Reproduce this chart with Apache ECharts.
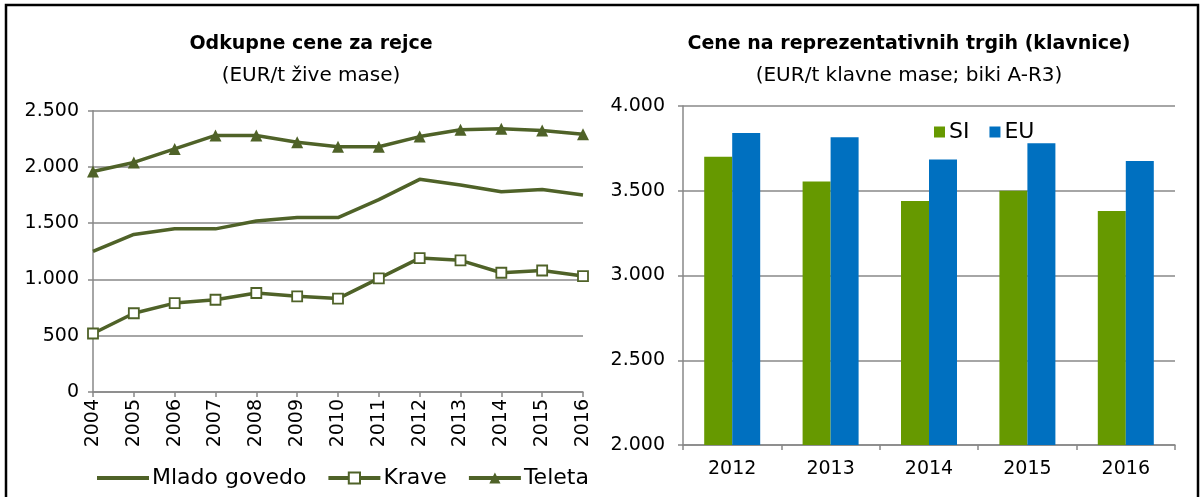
<!DOCTYPE html>
<html>
<head>
<meta charset="utf-8">
<script src="https://cdn.jsdelivr.net/npm/echarts@6/dist/echarts.min.js"></script>
<style>
html,body{margin:0;padding:0;background:#fff;}
#c{width:1200px;height:497px;}
</style>
</head>
<body>
<div id="c"></div>
<script>
const years = ['2004','2005','2006','2007','2008','2009','2010','2011','2012','2013','2014','2015','2016'];
const mladoGovedo = [1250,1400,1450,1450,1520,1550,1550,1710,1890,1840,1780,1800,1750];
const krave = [520,700,790,820,880,850,830,1010,1190,1170,1060,1080,1030];
const teleta = [1960,2040,2160,2280,2280,2220,2180,2180,2270,2330,2340,2325,2290];

const barYears = ['2012','2013','2014','2015','2016'];
const si = [3700,3555,3440,3500,3380];
const eu = [3840,3815,3685,3780,3675];

const leftTitle = 'Odkupne cene za rejce';
const leftSub = '(EUR/t žive mase)';
const rightTitle = 'Cene na reprezentativnih trgih (klavnice)';
const rightSub = '(EUR/t klavne mase; biki A-R3)';

const FONT = '"DejaVu Sans", "Liberation Sans", sans-serif';
const GREEN = '#4f6228';
const GRID = '#888888';
const fmt = v => String(v).replace(/\B(?=(\d{3})+(?!\d))/g, '.');

const chart = echarts.init(document.getElementById('c'));
chart.setOption({
  animation: false,
  textStyle: {fontFamily: FONT},
  graphic: [{
    type: 'polyline',
    shape: {points: [[6, 500], [6, 5], [1198, 5], [1198, 500]]},
    style: {stroke: '#000', lineWidth: 2.5, fill: null}
  }],
  title: [
    {text: leftTitle, left: 306, top: 30, textAlign: 'center',
     textStyle: {fontFamily: FONT, fontSize: 19, fontWeight: 'bold', color: '#000'}},
    {text: leftSub, left: 306, top: 61, textAlign: 'center',
     textStyle: {fontFamily: FONT, fontSize: 20, fontWeight: 'normal', color: '#000'}},
    {text: rightTitle, left: 904, top: 30, textAlign: 'center',
     textStyle: {fontFamily: FONT, fontSize: 19, fontWeight: 'bold', color: '#000'}},
    {text: rightSub, left: 904, top: 61, textAlign: 'center',
     textStyle: {fontFamily: FONT, fontSize: 20, fontWeight: 'normal', color: '#000'}}
  ],
  legend: [
    {data: [{name: 'Mlado govedo', icon: 'path://M0,0H52V4H0Z'}, {name: 'Krave'}, {name: 'Teleta'}],
     left: 92, top: 462,
     itemWidth: 52, itemHeight: 14, itemGap: 20,
     lineStyle: {width: 4},
     textStyle: {fontFamily: FONT, fontSize: 22, color: '#000', padding: [0,0,0,-2]}},
    {data: ['SI', 'EU'], left: 929, top: 116, icon: 'rect',
     itemWidth: 11, itemHeight: 11, itemGap: 20,
     textStyle: {fontFamily: FONT, fontSize: 22, color: '#000', padding: [0,0,0,-1]}}
  ],
  grid: [
    {left: 93, right: 1200 - 583, top: 110.7, bottom: 497 - 392, containLabel: false},
    {left: 683, right: 1200 - 1175, top: 106, bottom: 497 - 445, containLabel: false}
  ],
  xAxis: [
    {type: 'category', gridIndex: 0, data: years, boundaryGap: false,
     axisLine: {lineStyle: {color: GRID, width: 1.5}},
     axisTick: {show: true, length: 5, lineStyle: {color: GRID, width: 1.5}},
     axisLabel: {rotate: 90, fontSize: 19, color: '#000', margin: 7, fontFamily: FONT},
     splitLine: {show: false}},
    {type: 'category', gridIndex: 1, data: barYears, boundaryGap: true,
     axisLine: {lineStyle: {color: GRID, width: 1.5}},
     axisTick: {show: true, length: 5, lineStyle: {color: GRID, width: 1.5}},
     axisLabel: {fontSize: 19, color: '#000', margin: 15, fontFamily: FONT},
     splitLine: {show: false}}
  ],
  yAxis: [
    {type: 'value', gridIndex: 0, min: 0, max: 2500, interval: 500,
     axisLine: {show: true, lineStyle: {color: GRID, width: 1.5}},
     axisTick: {show: true, length: 5, lineStyle: {color: GRID, width: 1.5}},
     axisLabel: {fontSize: 19, color: '#000', margin: 14, formatter: fmt, fontFamily: FONT},
     splitLine: {lineStyle: {color: GRID, width: 1.5}}},
    {type: 'value', gridIndex: 1, min: 2000, max: 4000, interval: 500,
     axisLine: {show: true, lineStyle: {color: GRID, width: 1.5}},
     axisTick: {show: true, length: 5, lineStyle: {color: GRID, width: 1.5}},
     axisLabel: {fontSize: 19, color: '#000', margin: 18, formatter: fmt, fontFamily: FONT},
     splitLine: {lineStyle: {color: GRID, width: 1.5}}}
  ],
  series: [
    {name: 'Mlado govedo', type: 'line', xAxisIndex: 0, yAxisIndex: 0, data: mladoGovedo,
     symbol: 'none', lineStyle: {color: GREEN, width: 3.5}, itemStyle: {color: GREEN}},
    {name: 'Krave', type: 'line', xAxisIndex: 0, yAxisIndex: 0, data: krave,
     symbol: 'rect', symbolSize: 10, showAllSymbol: true,
     lineStyle: {color: GREEN, width: 3.5},
     itemStyle: {color: '#fff', borderColor: GREEN, borderWidth: 1.8}},
    {name: 'Teleta', type: 'line', xAxisIndex: 0, yAxisIndex: 0, data: teleta,
     symbol: 'triangle', symbolSize: 12, showAllSymbol: true,
     lineStyle: {color: GREEN, width: 3.5},
     itemStyle: {color: GREEN, borderColor: GREEN, borderWidth: 0}},
    {name: 'SI', type: 'bar', xAxisIndex: 1, yAxisIndex: 1, data: si,
     barWidth: 28, barGap: '0%', itemStyle: {color: '#669900'}},
    {name: 'EU', type: 'bar', xAxisIndex: 1, yAxisIndex: 1, data: eu,
     barWidth: 28, barGap: '0%', itemStyle: {color: '#0070c0'}}
  ]
});
</script>
</body>
</html>
